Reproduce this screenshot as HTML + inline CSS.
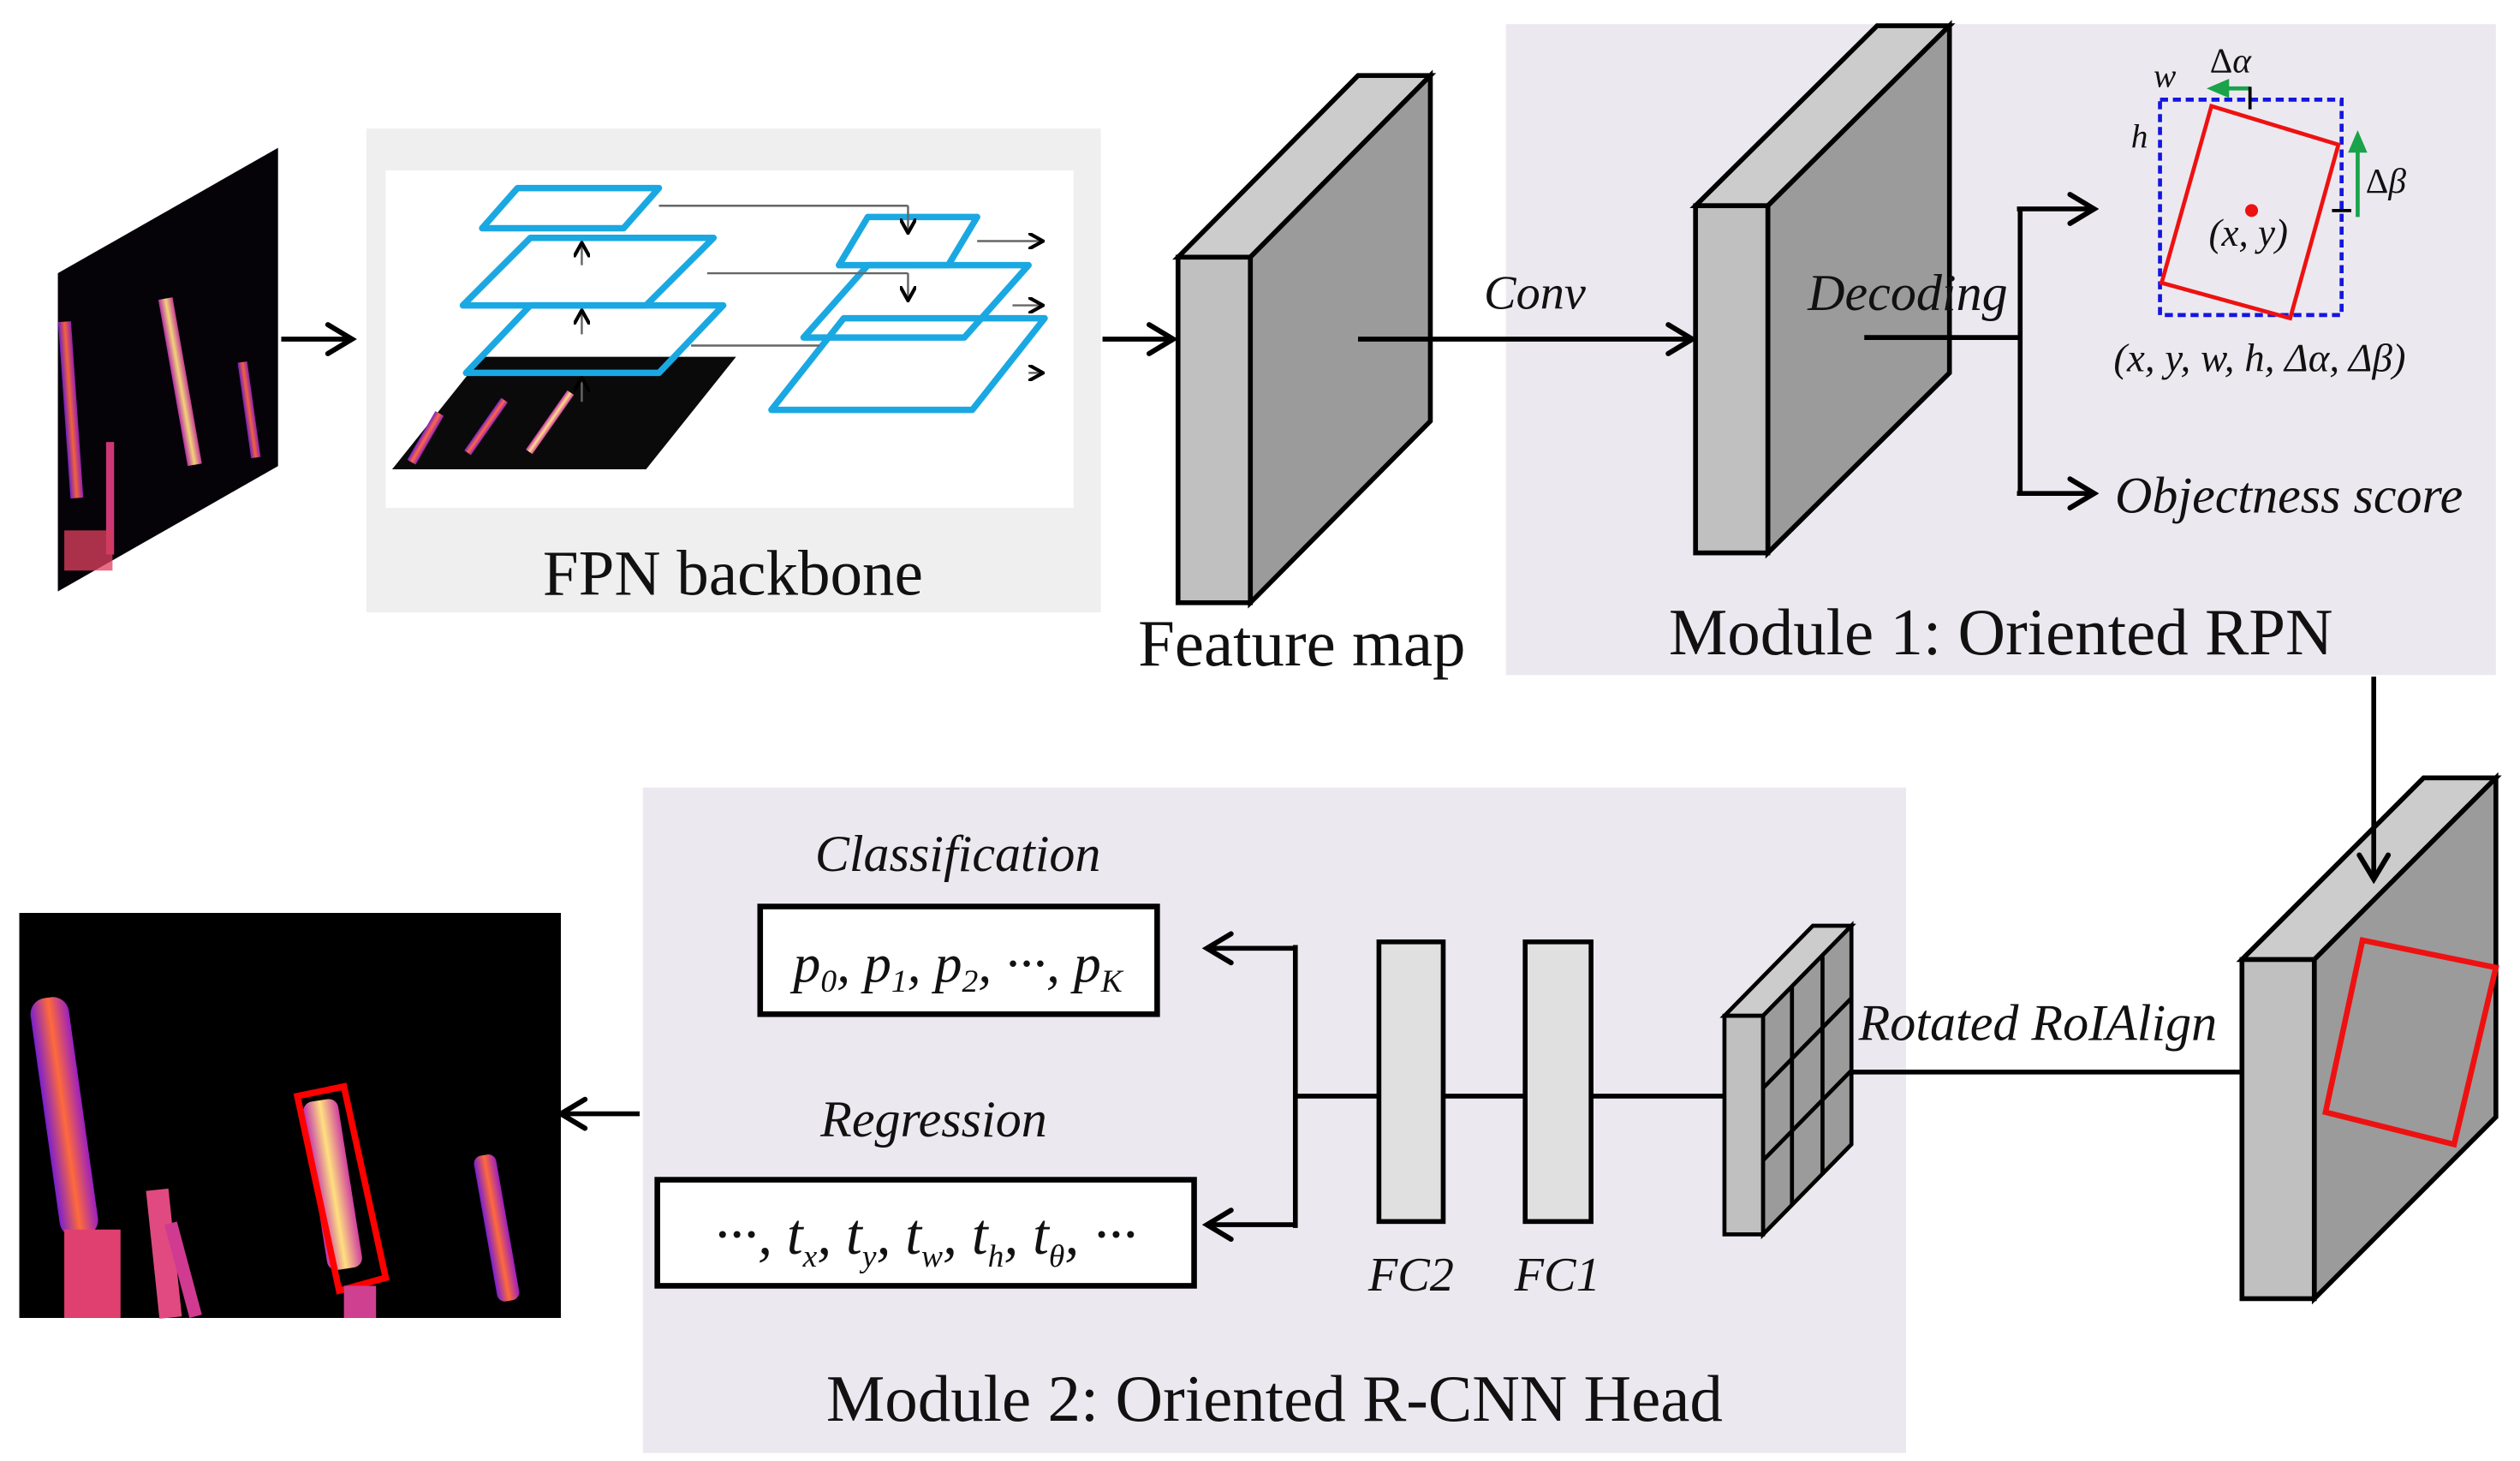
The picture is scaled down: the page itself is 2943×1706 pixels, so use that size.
<!DOCTYPE html>
<html><head><meta charset="utf-8"><style>
html,body{margin:0;padding:0;background:#fff;}
svg{display:block;}
text{font-family:"Liberation Serif",serif;fill:#111;}
.it{font-style:italic;}
</style></head><body>
<svg width="2943" height="1706" viewBox="0 0 1568 909" preserveAspectRatio="none" xmlns="http://www.w3.org/2000/svg">
<defs>
<marker id="ah" markerWidth="10" markerHeight="10" refX="8" refY="5" orient="auto" markerUnits="userSpaceOnUse" viewBox="0 0 10 10">
<path d="M0,0 L9,5 L0,10" fill="none" stroke="#000" stroke-width="2.2" stroke-linecap="round"/>
</marker>
<marker id="ah2" markerWidth="22" markerHeight="22" refX="18" refY="11" orient="auto" markerUnits="userSpaceOnUse" viewBox="0 0 22 22">
<path d="M4,2 L19,11 L4,20" fill="none" stroke="#000" stroke-width="3.2" stroke-linecap="round"/>
</marker>
<marker id="ga" markerWidth="14" markerHeight="14" refX="7" refY="7" orient="auto" markerUnits="userSpaceOnUse" viewBox="0 0 14 14">
<path d="M0,1 L14,7 L0,13 Z" fill="#1aa34a"/>
</marker>
<linearGradient id="ins" x1="0" y1="0" x2="1" y2="0">
<stop offset="0" stop-color="#7a1fd0"/><stop offset="0.5" stop-color="#ff6a3a"/><stop offset="1" stop-color="#9a20c0"/>
</linearGradient>
<linearGradient id="ins2" x1="0" y1="0" x2="1" y2="0">
<stop offset="0" stop-color="#c030b0"/><stop offset="0.5" stop-color="#ffe080"/><stop offset="1" stop-color="#d040a0"/>
</linearGradient>
</defs>

<!-- panels -->
<rect x="228" y="80" width="457" height="301" fill="#efeff0"/>
<rect x="240" y="106" width="428" height="210" fill="#fff"/>
<rect x="937" y="15" width="616" height="405" fill="#ebe9ef"/>
<rect x="400" y="490" width="786" height="414" fill="#ebe9ef"/>

<!-- input image -->
<polygon points="36,170 173,92 173,290 36,368" fill="#050308"/>
<g opacity="0.95">
<rect x="40" y="200" width="8" height="110" fill="url(#ins)" transform="rotate(-4 44 255)"/>
<rect x="108" y="185" width="9" height="105" fill="url(#ins2)" transform="rotate(-10 112 240)"/>
<rect x="152" y="225" width="6" height="60" fill="url(#ins)" transform="rotate(-8 155 255)"/>
<rect x="66" y="275" width="5" height="70" fill="#d83a7a"/>
<rect x="40" y="330" width="30" height="25" fill="#e04060" opacity="0.8"/>
</g>
<line x1="175" y1="211" x2="218" y2="211" stroke="#000" stroke-width="3" marker-end="url(#ah2)"/>

<!-- FPN -->
<g stroke="#1aa8e2" stroke-width="4" fill="none" stroke-linejoin="round">
<polygon points="244,292 300,222 458,222 402,292" fill="#0a0a0a" stroke="none"/>
<rect x="262" y="255" width="6" height="35" fill="url(#ins)" stroke="none" transform="rotate(30 265 272)"/>
<rect x="300" y="245" width="5" height="40" fill="url(#ins)" stroke="none" transform="rotate(35 302 265)"/>
<rect x="340" y="240" width="5" height="45" fill="url(#ins2)" stroke="none" transform="rotate(35 342 262)"/>
<polygon points="290,232 330,190 450,190 410,232"/>
<polygon points="288,190 330,148 444,148 402,190"/>
<polygon points="300,142 322,117 410,117 388,142"/>
<polygon points="480,255 525,198 650,198 605,255"/>
<polygon points="500,210 540,165 640,165 600,210"/>
<polygon points="522,165 540,135 608,135 590,165"/>
</g>
<g stroke="#666" stroke-width="1.3" fill="none">
<line x1="362" y1="250" x2="362" y2="236" marker-end="url(#ah)"/>
<line x1="362" y1="208" x2="362" y2="194" marker-end="url(#ah)"/>
<line x1="362" y1="165" x2="362" y2="152" marker-end="url(#ah)"/>
<line x1="410" y1="128" x2="565" y2="128"/>
<line x1="565" y1="128" x2="565" y2="144" marker-end="url(#ah)"/>
<line x1="608" y1="150" x2="648" y2="150" marker-end="url(#ah)"/>
<line x1="440" y1="170" x2="565" y2="170"/>
<line x1="565" y1="170" x2="565" y2="186" marker-end="url(#ah)"/>
<line x1="630" y1="190" x2="648" y2="190" marker-end="url(#ah)"/>
<line x1="430" y1="215" x2="510" y2="215"/>
<line x1="640" y1="232" x2="648" y2="232" marker-end="url(#ah)"/>
</g>
<text x="456" y="370" font-size="40" text-anchor="middle">FPN backbone</text>
<line x1="686" y1="211" x2="729" y2="211" stroke="#000" stroke-width="3" marker-end="url(#ah2)"/>

<!-- feature map box -->
<g stroke="#000" stroke-width="3" stroke-linejoin="miter">
<polygon points="733,160 778,160 890,47 845,47" fill="#cccccc"/>
<polygon points="778,160 890,47 890,262 778,375" fill="#9b9b9b"/>
<rect x="733" y="160" width="45" height="215" fill="#c0c0c0"/>
</g>
<text x="810" y="414" font-size="41" text-anchor="middle">Feature map</text>
<line x1="845" y1="211" x2="1052" y2="211" stroke="#000" stroke-width="3" marker-end="url(#ah2)"/>
<text x="955" y="192" font-size="30" class="it" text-anchor="middle">Conv</text>

<!-- second box -->
<g stroke="#000" stroke-width="3">
<polygon points="1055,128 1100,128 1213,16 1168,16" fill="#cccccc"/>
<polygon points="1100,128 1213,16 1213,232 1100,344" fill="#9b9b9b"/>
<rect x="1055" y="128" width="45" height="216" fill="#c0c0c0"/>
</g>
<text x="1187" y="193" font-size="32" class="it" text-anchor="middle">Decoding</text>
<g stroke="#000" stroke-width="3" fill="none">
<line x1="1160" y1="210" x2="1257" y2="210"/>
<line x1="1257" y1="130" x2="1257" y2="307"/>
<line x1="1255" y1="130" x2="1302" y2="130" marker-end="url(#ah2)"/>
<line x1="1255" y1="307" x2="1302" y2="307" marker-end="url(#ah2)"/>
</g>
<text x="1316" y="319" font-size="32" class="it">Objectness score</text>

<!-- box diagram -->
<rect x="1344" y="62" width="113" height="134" fill="none" stroke="#1515e0" stroke-width="2.5" stroke-dasharray="5,3"/>
<polygon points="1376,66 1455,90 1425,198 1345,176" fill="none" stroke="#ee1111" stroke-width="2.5"/>
<circle cx="1401" cy="131" r="4" fill="#ee1111"/>
<text x="1399" y="153" font-size="24" class="it" text-anchor="middle">(x, y)</text>
<text x="1340" y="54" font-size="21" class="it">w</text>
<text x="1326" y="92" font-size="21" class="it">h</text>
<text x="1375" y="45" font-size="22">Δ<tspan class="it">α</tspan></text>
<text x="1472" y="120" font-size="22">Δ<tspan class="it">β</tspan></text>
<line x1="1400" y1="55" x2="1380" y2="55" stroke="#1aa34a" stroke-width="2.5" marker-end="url(#ga)"/>
<line x1="1400" y1="54" x2="1400" y2="68" stroke="#000" stroke-width="2"/>
<line x1="1467" y1="135" x2="1467" y2="88" stroke="#1aa34a" stroke-width="2.5" marker-end="url(#ga)"/>
<line x1="1451" y1="131" x2="1463" y2="131" stroke="#000" stroke-width="2"/>
<text x="1406" y="231" font-size="25" class="it" text-anchor="middle">(x, y, w, h, Δα, Δβ)</text>
<text x="1245" y="407" font-size="41" text-anchor="middle">Module 1: Oriented RPN</text>

<!-- right box -->
<g stroke="#000" stroke-width="3">
<polygon points="1395,597 1440,597 1553,484 1508,484" fill="#cccccc"/>
<polygon points="1440,597 1553,484 1553,695 1440,808" fill="#9b9b9b"/>
<rect x="1395" y="597" width="45" height="211" fill="#c0c0c0"/>
</g>
<polygon points="1470,585 1553,602 1527,712 1447,692" fill="none" stroke="#ee1111" stroke-width="3.5"/>
<!-- down arrow -->
<line x1="1477" y1="421" x2="1477" y2="546" stroke="#000" stroke-width="3" marker-end="url(#ah2)"/>

<!-- RoIAlign -->
<line x1="1152" y1="667" x2="1395" y2="667" stroke="#000" stroke-width="3"/>
<text x="1268" y="647" font-size="32" class="it" text-anchor="middle">Rotated RoIAlign</text>
<g stroke="#000" stroke-width="2.5">
<polygon points="1073,632 1097,632 1152,576 1128,576" fill="#cccccc"/>
<polygon points="1097,632 1152,576 1152,712 1097,768" fill="#9b9b9b"/>
<rect x="1073" y="632" width="24" height="136" fill="#c0c0c0"/>
<line x1="1115" y1="614" x2="1115" y2="750"/>
<line x1="1134" y1="595" x2="1134" y2="731"/>
<line x1="1097" y1="677" x2="1152" y2="621"/>
<line x1="1097" y1="722" x2="1152" y2="666"/>
</g>

<!-- FCs -->
<g stroke="#000" stroke-width="3">
<line x1="806" y1="682" x2="1073" y2="682"/>
<rect x="858" y="586" width="40" height="174" fill="#e0e0e0"/>
<rect x="949" y="586" width="41" height="174" fill="#e0e0e0"/>
<line x1="806" y1="588" x2="806" y2="764" fill="none"/>
<line x1="807" y1="590" x2="752" y2="590" marker-end="url(#ah2)"/>
<line x1="807" y1="762" x2="752" y2="762" marker-end="url(#ah2)"/>
</g>
<text x="878" y="803" font-size="30" class="it" text-anchor="middle">FC2</text>
<text x="969" y="803" font-size="30" class="it" text-anchor="middle">FC1</text>

<!-- output boxes -->
<text x="596" y="542" font-size="32" class="it" text-anchor="middle">Classification</text>
<rect x="473" y="564" width="247" height="67" fill="#fff" stroke="#000" stroke-width="3.5"/>
<text x="596" y="611" font-size="34" class="it" text-anchor="middle">p<tspan font-size="20" dy="6">0</tspan><tspan dy="-6">, p</tspan><tspan font-size="20" dy="6">1</tspan><tspan dy="-6">, p</tspan><tspan font-size="20" dy="6">2</tspan><tspan dy="-6">, ···, p</tspan><tspan font-size="20" dy="6">K</tspan></text>
<text x="581" y="707" font-size="32" class="it" text-anchor="middle">Regression</text>
<rect x="409" y="734" width="334" height="66" fill="#fff" stroke="#000" stroke-width="3.5"/>
<text x="576" y="780" font-size="36" class="it" text-anchor="middle">···, t<tspan font-size="20" dy="8">x</tspan><tspan dy="-8">, t</tspan><tspan font-size="20" dy="8">y</tspan><tspan dy="-8">, t</tspan><tspan font-size="20" dy="8">w</tspan><tspan dy="-8">, t</tspan><tspan font-size="20" dy="8">h</tspan><tspan dy="-8">, t</tspan><tspan font-size="20" dy="8">θ</tspan><tspan dy="-8">, ···</tspan></text>
<text x="793" y="884" font-size="41" text-anchor="middle">Module 2: Oriented R-CNN Head</text>

<!-- output image -->
<line x1="398" y1="693" x2="350" y2="693" stroke="#000" stroke-width="3" marker-end="url(#ah2)"/>
<rect x="12" y="568" width="337" height="252" fill="#000"/>
<rect x="28" y="620" width="24" height="150" rx="10" fill="url(#ins)" transform="rotate(-8 40 695)"/>
<rect x="40" y="765" width="35" height="55" fill="#e04070"/>
<rect x="95" y="740" width="14" height="80" fill="#e04a80" transform="rotate(-6 102 780)"/>
<rect x="110" y="760" width="8" height="60" fill="#d03a90" transform="rotate(-15 114 790)"/>
<rect x="196" y="684" width="22" height="106" rx="6" fill="url(#ins2)" transform="rotate(-9 207 737)"/>
<polygon points="185,682 214,676 240,795 211,803" fill="none" stroke="#ff0000" stroke-width="4"/>
<rect x="214" y="800" width="20" height="20" fill="#d04090"/>
<rect x="302" y="718" width="14" height="92" rx="5" fill="url(#ins)" transform="rotate(-10 309 764)"/>
</svg>
</body></html>
